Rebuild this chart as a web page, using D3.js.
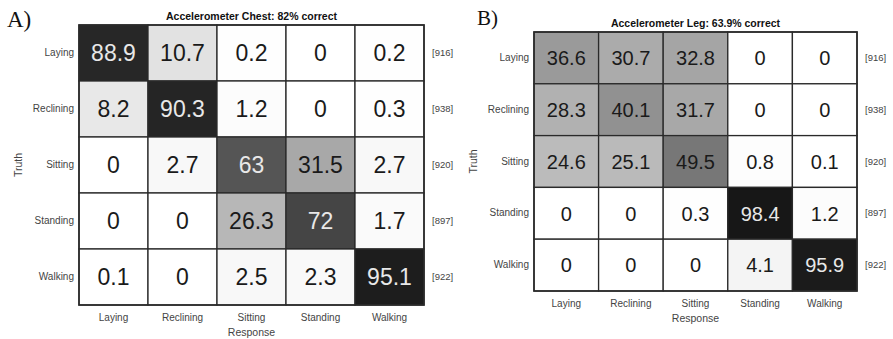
<!DOCTYPE html>
<html>
<head>
<meta charset="utf-8">
<script src="https://cdn.jsdelivr.net/npm/d3@7"></script>
<style>
  body { margin: 0; background: #fff; }
  svg { display: block; }
</style>
</head>
<body>
<div id="chart"></div>
<script>
// classes (rows = truth, columns = response)
const classes = ["Laying", "Reclining", "Sitting", "Standing", "Walking"]

// panel A: accelerometer chest
const chestValues = [
    [88.9, 10.7, 0.2, 0, 0.2],
    [8.2, 90.3, 1.2, 0, 0.3],
    [0, 2.7, 63, 31.5, 2.7],
    [0, 0, 26.3, 72, 1.7],
    [0.1, 0, 2.5, 2.3, 95.1]
]
const chestCounts = [916, 938, 920, 897, 922]

// panel B: accelerometer leg
const legValues = [
    [36.6, 30.7, 32.8, 0, 0],
    [28.3, 40.1, 31.7, 0, 0],
    [24.6, 25.1, 49.5, 0.8, 0.1],
    [0, 0, 0.3, 98.4, 1.2],
    [0, 0, 0, 4.1, 95.9]
]
const legCounts = [916, 938, 920, 897, 922]

const panels = [
    { letter: "A)", title: "Accelerometer Chest:  82% correct", values: chestValues, counts: chestCounts,
      x0: 79, x1: 424, y0: 25, y1: 305, fs: 23, letterX: 7, letterY: 27, letterSize: 23 },
    { letter: "B)", title: "Accelerometer Leg:  63.9% correct", values: legValues, counts: legCounts,
      x0: 534, x1: 857, y0: 32, y1: 291, fs: 20, letterX: 477, letterY: 25, letterSize: 21 }
]

const width = 893, height = 339
const svg = d3.select("#chart").append("svg")
    .attr("width", width)
    .attr("height", height)

// grey ramp for the cells
const shade = d3.scaleLinear()
    .domain([0, 60, 100])
    .range(["#ffffff", "#5a5a5a", "#141414"])
    .clamp(true)

panels.forEach((p) => {
    const g = svg.append("g")
    const x = d3.scaleBand().domain(classes).range([p.x0, p.x1])
    const y = d3.scaleBand().domain(classes).range([p.y0, p.y1])
    const cells = []
    p.values.forEach((row, i) => {
        row.forEach((v, j) => cells.push({ truth: classes[i], resp: classes[j], v: v }))
    })

    //cells
    g.selectAll("rect.cell")
        .data(cells)
        .enter()
        .append("rect")
        .attr("class", "cell")
        .attr("x", (d) => x(d.resp))
        .attr("y", (d) => y(d.truth))
        .attr("width", x.bandwidth())
        .attr("height", y.bandwidth())
        .attr("fill", (d) => shade(d.v))
        .attr("stroke", "#2a2a2a")
        .attr("stroke-width", 1.3)

    g.selectAll("text.val")
        .data(cells)
        .enter()
        .append("text")
        .attr("class", "val")
        .attr("x", (d) => x(d.resp) + x.bandwidth() / 2)
        .attr("y", (d) => y(d.truth) + y.bandwidth() / 2 + p.fs * 0.36)
        .attr("text-anchor", "middle")
        .attr("font-family", "Liberation Sans, Arial, sans-serif")
        .attr("font-size", p.fs)
        .attr("fill", (d) => d.v > 55 ? "#e8e8e8" : "#1a1a1a")
        .text((d) => d.v)

    //outer frame
    g.append("rect")
        .attr("x", p.x0).attr("y", p.y0)
        .attr("width", p.x1 - p.x0).attr("height", p.y1 - p.y0)
        .attr("fill", "none")
        .attr("stroke", "#2a2a2a")
        .attr("stroke-width", 1.6)

    const lab = { "font-family": "Liberation Sans, Arial, sans-serif", "font-size": 10, "fill": "#444" }
    function style(sel) {
        Object.keys(lab).forEach((k) => sel.attr(k, lab[k]))
        return sel
    }

    //row labels
    style(g.selectAll("text.row")
        .data(classes)
        .enter()
        .append("text")
        .attr("class", "row")
        .attr("x", p.x0 - 5)
        .attr("y", (d) => y(d) + y.bandwidth() / 2 + 3)
        .attr("text-anchor", "end")
        .text((d) => d))

    //counts on the right
    style(g.selectAll("text.count")
        .data(p.counts)
        .enter()
        .append("text")
        .attr("class", "count")
        .attr("x", p.x1 + 8)
        .attr("y", (d, i) => y(classes[i]) + y.bandwidth() / 2 + 3)
        .text((d) => `[${d}]`))
        .attr("font-size", 9.5)

    //column labels
    style(g.selectAll("text.col")
        .data(classes)
        .enter()
        .append("text")
        .attr("class", "col")
        .attr("x", (d) => x(d) + x.bandwidth() / 2)
        .attr("y", p.y1 + 16)
        .attr("text-anchor", "middle")
        .text((d) => d))

    style(g.append("text")
        .attr("x", (p.x0 + p.x1) / 2)
        .attr("y", p.y1 + 31)
        .attr("text-anchor", "middle")
        .text("Response"))
        .attr("font-size", 10.5)

    style(g.append("text")
        .attr("transform", `translate(${p.x0 - 57},${(p.y0 + p.y1) / 2}) rotate(-90)`)
        .attr("text-anchor", "middle")
        .text("Truth"))
        .attr("font-size", 10.5)

    //title
    g.append("text")
        .attr("x", (p.x0 + p.x1) / 2)
        .attr("y", p.y0 - 5)
        .attr("text-anchor", "middle")
        .attr("font-family", "Liberation Sans, Arial, sans-serif")
        .attr("font-size", 10.5)
        .attr("font-weight", "bold")
        .attr("fill", "#111")
        .text(p.title)

    g.append("text")
        .attr("x", p.letterX)
        .attr("y", p.letterY)
        .attr("font-family", "Liberation Serif, Times New Roman, serif")
        .attr("font-size", p.letterSize)
        .attr("fill", "#111")
        .text(p.letter)
})
</script>
</body>
</html>
